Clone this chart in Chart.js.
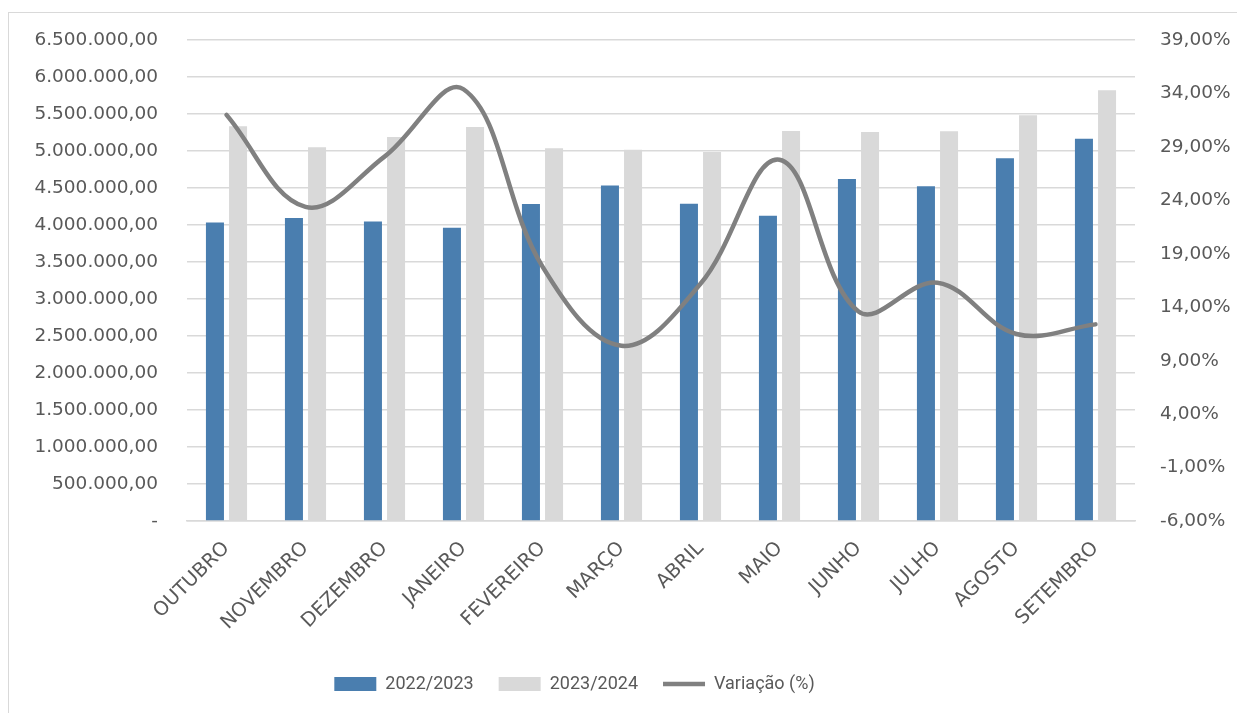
<!DOCTYPE html>
<html>
<head>
<meta charset="utf-8">
<script src="https://cdn.jsdelivr.net/npm/chart.js@4.4.0/dist/chart.umd.min.js"></script>
<style>
  html, body { margin: 0; padding: 0; background: #fff; overflow: hidden; }
  #frame { position: absolute; left: 8px; top: 12px; width: 1300px; height: 800px; border: 1px solid #d9d9d9; box-sizing: border-box; }
  #wrap { position: absolute; left: 0; top: 0; width: 1237px; height: 713px; }
</style>
</head>
<body>
<div id="frame"></div>
<div id="wrap"><canvas id="myChart" width="1237" height="713"></canvas></div>
<script>
// dados
var meses = ['OUTUBRO', 'NOVEMBRO', 'DEZEMBRO', 'JANEIRO', 'FEVEREIRO', 'MARÇO', 'ABRIL', 'MAIO', 'JUNHO', 'JULHO', 'AGOSTO', 'SETEMBRO'];
var safra2223 = [4035000, 4094000, 4049000, 3963000, 4283000, 4536000, 4288000, 4126000, 4622000, 4523000, 4902000, 5168000];
var safra2324 = [5335000, 5051000, 5191000, 5326000, 5038000, 5019000, 4988000, 5272000, 5259000, 5268000, 5484000, 5823000];
var variacao = [32.0, 23.4, 28.1, 34.4, 17.8, 10.4, 16.2, 27.8, 13.6, 16.3, 11.5, 12.4];

var corTexto = '#595959';
var fonte = 'DejaVu Sans';

function formataMilhar(v) {
    if (v === 0) return '-';
    var s = Math.round(v).toString();
    return s.replace(/\B(?=(\d{3})+(?!\d))/g, '.') + ',00';
}

function formataPct(v) {
    return v.toFixed(2).replace('.', ',') + '%';
}

// legenda um pouco deslocada para a esquerda, como no original
var desviaLegenda = {
    id: 'desviaLegenda',
    afterLayout: function(chart) {
        if (chart.legend) {
            chart.legend.left -= 44;
            chart.legend.right -= 44;
        }
    }
};

var ctx = document.getElementById('myChart').getContext('2d');
var myChart = new Chart(ctx, {
    type: 'bar',
    data: {
        labels: meses,
        datasets: [{
            label: '2022/2023',
            data: safra2223,
            backgroundColor: '#4a7eaf',
            yAxisID: 'y',
            order: 1,
            categoryPercentage: 0.585,
            barPercentage: 0.78
        }, {
            label: '2023/2024',
            data: safra2324,
            backgroundColor: '#d9d9d9',
            yAxisID: 'y',
            order: 1,
            categoryPercentage: 0.585,
            barPercentage: 0.78
        }, {
            type: 'line',
            label: 'Variação (%)',
            data: variacao,
            borderColor: '#808080',
            backgroundColor: '#808080',
            borderWidth: 4.5,
            borderCapStyle: 'round',
            pointRadius: 0,
            tension: 0.38,
            yAxisID: 'y1',
            order: 0
        }]
    },
    plugins: [desviaLegenda],
    options: {
        responsive: false,
        animation: false,
        layout: { padding: { top: 40, bottom: 10, left: 0, right: 0 } },
        plugins: {
            tooltip: { enabled: false },
            legend: {
                position: 'bottom',
                labels: {
                    color: corTexto,
                    font: { family: 'Roboto', size: 18 },
                    usePointStyle: true,
                    pointStyleWidth: 42,
                    boxHeight: 14,
                    padding: 25,
                    sort: function(a, b) { return a.datasetIndex - b.datasetIndex; },
                    generateLabels: function(chart) {
                        var itens = Chart.defaults.plugins.legend.labels.generateLabels(chart);
                        itens.forEach(function(it) {
                            it.pointStyle = it.datasetIndex === 2 ? 'line' : 'rect';
                            if (it.datasetIndex !== 2) it.lineWidth = 0;
                        });
                        return itens;
                    }
                }
            }
        },
        scales: {
            x: {
                grid: { display: false },
                border: { display: true, color: '#d9d9d9', width: 1.5 },
                ticks: {
                    color: corTexto,
                    font: { family: fonte, size: 19.5 },
                    maxRotation: 45,
                    minRotation: 45,
                    padding: 8,
                    autoSkip: false
                },
                afterFit: function(scale) { scale.height = 129; }
            },
            y: {
                position: 'left',
                min: 0,
                max: 6500000,
                grid: { color: '#d9d9d9', lineWidth: 1.5, drawTicks: false },
                border: { display: false },
                ticks: {
                    stepSize: 500000,
                    color: corTexto,
                    font: { family: fonte, size: 18.5 },
                    padding: 29,
                    callback: function(v) { return formataMilhar(v); }
                },
                afterFit: function(scale) { scale.width = 187; }
            },
            y1: {
                position: 'right',
                min: -6,
                max: 39,
                grid: { display: false, drawTicks: false },
                border: { display: false },
                ticks: {
                    stepSize: 5,
                    color: corTexto,
                    font: { family: fonte, size: 18.5 },
                    padding: 25,
                    callback: function(v) { return formataPct(v); }
                },
                afterFit: function(scale) { scale.width = 102; }
            }
        }
    }
});
</script>
</body>
</html>
